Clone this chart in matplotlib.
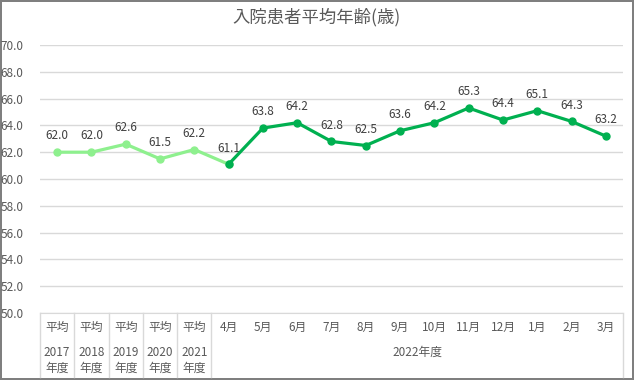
import matplotlib
matplotlib.use("Agg")
import matplotlib.pyplot as plt
from matplotlib.lines import Line2D

plt.rcParams["font.family"] = ["Noto Sans CJK JP", "DejaVu Sans"]

# data
avg_years = ["2017", "2018", "2019", "2020", "2021"]
avg_values = [62.0, 62.0, 62.6, 61.5, 62.2]
months = ["4月", "5月", "6月", "7月", "8月", "9月", "10月", "11月", "12月", "1月", "2月", "3月"]
month_values = [61.1, 63.8, 64.2, 62.8, 62.5, 63.6, 64.2, 65.3, 64.4, 65.1, 64.3, 63.2]

LIGHT = "#8ef08e"
DARK = "#00b050"
TXT = "#595959"

W, H = 634, 380
fig = plt.figure(figsize=(W / 100, H / 100), dpi=100)
fig.patch.set_edgecolor("#7f7f7f")
fig.patch.set_linewidth(1.5)

left, right, top, bottom = 40, 623, 45, 313
ax = fig.add_axes([left / W, 1 - bottom / H, (right - left) / W, (bottom - top) / H])
ax_h = bottom - top

n_avg = len(avg_values)
x_avg = list(range(n_avg))
x_month = list(range(n_avg, n_avg + len(months)))

# light line: yearly averages + link to April
ax.plot(x_avg + [x_month[0]], avg_values + [month_values[0]], color=LIGHT, lw=2.3,
        marker="o", ms=5, zorder=3)
ax.plot(x_month, month_values, color=DARK, lw=2.3, marker="o", ms=5, zorder=4)

for x, v in zip(x_avg + x_month, avg_values + month_values):
    ax.annotate(f"{v:.1f}", (x, v), xytext=(0, 7), textcoords="offset points",
                ha="center", va="bottom", fontsize=8.5, color="#404040")

ax.set_xlim(-0.5, len(x_avg) + len(months) - 0.5)
ax.set_ylim(50, 70)
ax.set_yticks([50 + 2 * i for i in range(11)])
ax.set_yticklabels([f"{50 + 2 * i:.1f}" for i in range(11)], fontsize=8.5, color=TXT)
ax.tick_params(axis="y", length=0, pad=12)
ax.set_xticks([])
ax.grid(axis="y", color="#d9d9d9", lw=1)
ax.set_axisbelow(True)
for s in ["top", "right", "left"]:
    ax.spines[s].set_visible(False)
ax.spines["bottom"].set_color("#d9d9d9")

# multi-level category labels
trans = ax.get_xaxis_transform()
def ypos(py):
    return (bottom - py) / ax_h

for x, yr in zip(x_avg, avg_years):
    ax.text(x, ypos(327), "平均", transform=trans, ha="center", va="center",
            fontsize=8.5, color=TXT)
    ax.text(x, ypos(352), yr, transform=trans, ha="center", va="center",
            fontsize=8.5, color=TXT)
    ax.text(x, ypos(368), "年度", transform=trans, ha="center", va="center",
            fontsize=8.5, color=TXT)
for x, m in zip(x_month, months):
    ax.text(x, ypos(327), m, transform=trans, ha="center", va="center",
            fontsize=8.5, color=TXT)
ax.text((x_month[0] + x_month[-1]) / 2, ypos(352), "2022年度", transform=trans,
        ha="center", va="center", fontsize=8.5, color=TXT)

for xs in [i - 0.5 for i in range(n_avg + 1)] + [x_month[-1] + 0.5]:
    ax.add_line(Line2D([xs, xs], [0, ypos(377)], transform=trans, color="#d9d9d9",
                       lw=1, clip_on=False))

fig.text(0.5, 1 - 17 / H, "入院患者平均年齢(歳)", ha="center", va="center",
         fontsize=12.5, color=TXT)

fig.savefig("out.png", dpi=100, edgecolor=fig.get_edgecolor())
